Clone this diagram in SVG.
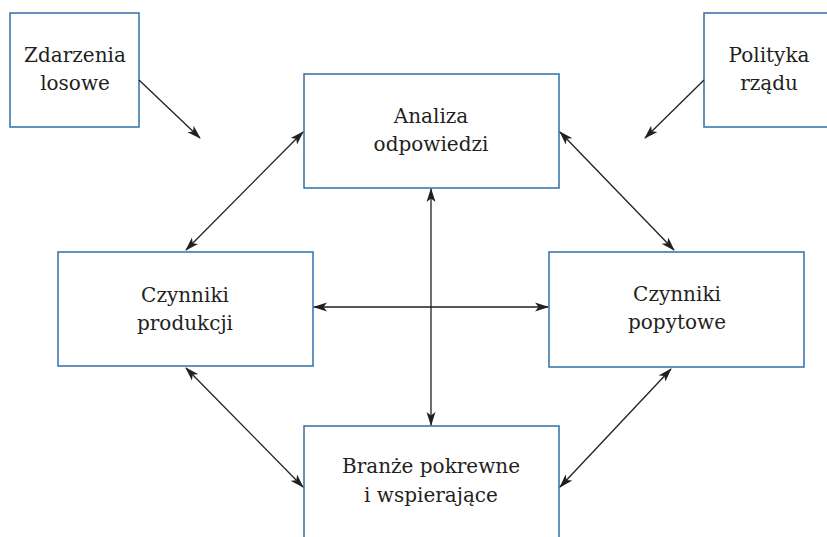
<svg xmlns="http://www.w3.org/2000/svg" width="827" height="537" viewBox="0 0 827 537">
<defs>
<marker id="ah" viewBox="0 0 14 10" refX="13" refY="5" markerWidth="14" markerHeight="10" markerUnits="userSpaceOnUse" orient="auto-start-reverse">
<path d="M0,0.5 L14,5 L0,9.5 L3.5,5 Z" fill="#231f20"/>
</marker>
<style>
.box{fill:#fff;stroke:#2f6fa8;stroke-width:1.5}
.lbl{font-family:"DejaVu Serif",serif;font-size:20px;fill:#231f20;text-anchor:middle}
.c{stroke:#231f20;stroke-width:1.3;fill:none}
</style>
</defs>
<rect width="827" height="537" fill="#fff"/>
<g id="zdarzenia">
<rect class="box" x="10" y="13" width="129" height="114"/>
<text class="lbl" x="75" y="62">Zdarzenia</text>
<text class="lbl" x="75" y="90">losowe</text>
</g>
<g id="polityka">
<rect class="box" x="704" y="13" width="130" height="114"/>
<text class="lbl" x="769" y="62">Polityka</text>
<text class="lbl" x="769" y="90">rządu</text>
</g>
<g id="analiza">
<rect class="box" x="304" y="74" width="255" height="114"/>
<text class="lbl" x="431" y="123">Analiza</text>
<text class="lbl" x="431" y="151">odpowiedzi</text>
</g>
<g id="produkcji">
<rect class="box" x="58" y="252" width="255" height="114"/>
<text class="lbl" x="185" y="302">Czynniki</text>
<text class="lbl" x="185" y="330">produkcji</text>
</g>
<g id="popytowe">
<rect class="box" x="549" y="252" width="255" height="115"/>
<text class="lbl" x="677" y="301">Czynniki</text>
<text class="lbl" x="677" y="329">popytowe</text>
</g>
<g id="branze">
<rect class="box" x="304" y="426" width="255" height="130"/>
<text class="lbl" x="431" y="473">Branże pokrewne</text>
<text class="lbl" x="431" y="502">i wspierające</text>
</g>
<g id="connectors">
<line class="c" x1="139" y1="80" x2="200" y2="138" marker-end="url(#ah)"/>
<line class="c" x1="704" y1="80" x2="645" y2="138" marker-end="url(#ah)"/>
<line class="c" x1="303" y1="132" x2="186" y2="250" marker-start="url(#ah)" marker-end="url(#ah)"/>
<line class="c" x1="560" y1="132" x2="674" y2="250" marker-start="url(#ah)" marker-end="url(#ah)"/>
<line class="c" x1="186" y1="368" x2="303" y2="487" marker-start="url(#ah)" marker-end="url(#ah)"/>
<line class="c" x1="671" y1="369" x2="560" y2="487" marker-start="url(#ah)" marker-end="url(#ah)"/>
<line class="c" x1="314" y1="307" x2="548" y2="307" marker-start="url(#ah)" marker-end="url(#ah)"/>
<line class="c" x1="431" y1="189" x2="431" y2="425" marker-start="url(#ah)" marker-end="url(#ah)"/>
</g>
</svg>
